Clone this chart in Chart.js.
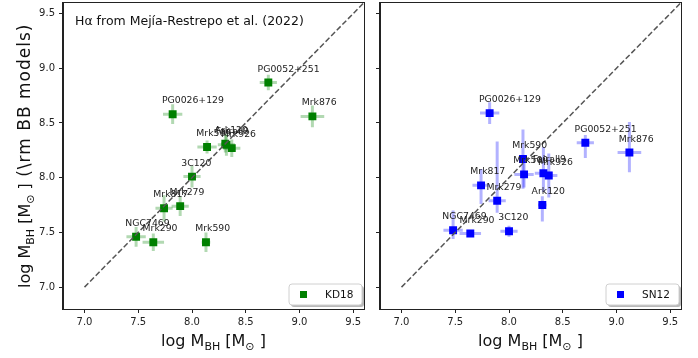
<!DOCTYPE html>
<html>
<head>
<meta charset="utf-8">
<script src="https://cdn.jsdelivr.net/npm/chart.js@4/dist/chart.umd.min.js"></script>
<style>
body { margin: 0; background: #fff; width: 698px; height: 358px; overflow: hidden; position: relative; }
#left { position: absolute; left: 0; top: -3px; }
#right { position: absolute; left: 370px; top: -3px; }
</style>
</head>
<body>
<canvas id="left" width="370" height="361"></canvas>
<canvas id="right" width="328" height="361"></canvas>
<script>
// objects, shared x values (log M_BH) and their errors
var names = ["NGC7469", "Mrk290", "Mrk817", "Mrk279", "3C120", "Mrk590", "Mrk509",
             "Ark120", "Fairall9", "Mrk926", "PG0026+129", "PG0052+251", "Mrk876"];
var xMass = [7.48, 7.64, 7.74, 7.89, 8.00, 8.13, 8.14, 8.31, 8.32, 8.37, 7.82, 8.71, 9.12];
var xErr  = [0.09, 0.10, 0.08, 0.08, 0.08, 0.04, 0.09, 0.04, 0.08, 0.08, 0.09, 0.08, 0.11];

// KD18 panel
var kd18    = [7.46, 7.41, 7.72, 7.74, 8.01, 7.41, 8.28, 8.31, 8.30, 8.27, 8.58, 8.87, 8.56];
var kd18Err = [0.09, 0.08, 0.12, 0.09, 0.10, 0.09, 0.06, 0.08, 0.10, 0.08, 0.09, 0.07, 0.10];

// SN12 panel (asymmetric y errors)
var sn12      = [7.52, 7.49, 7.93, 7.79, 7.51, 8.17, 8.03, 7.75, 8.04, 8.02, 8.59, 8.32, 8.23];
var sn12ErrLo = [0.08, 0.03, 0.17, 0.11, 0.05, 0.27, 0.12, 0.15, 0.17, 0.20, 0.10, 0.14, 0.18];
var sn12ErrHi = [0.18, 0.03, 0.15, 0.54, 0.05, 0.27, 0.12, 0.08, 0.24, 0.20, 0.10, 0.07, 0.28];

var oneToOne = [7.0, 9.6];
var tickVals = [7.0, 7.5, 8.0, 8.5, 9.0, 9.5];
var axisMin = 6.8, axisMax = 9.6;

var FONT = '"DejaVu Sans", sans-serif';

function drawParts(ctx, parts, x0, y0, angle) {
  ctx.save();
  ctx.translate(x0, y0);
  ctx.rotate(angle);
  var w = 0;
  parts.forEach(function (p) {
    ctx.font = p.size + 'px ' + FONT;
    ctx.letterSpacing = (p.ls || 0) + 'px';
    w += ctx.measureText(p.text).width;
  });
  var x = -w / 2;
  ctx.fillStyle = '#111';
  ctx.textAlign = 'left';
  ctx.textBaseline = 'alphabetic';
  parts.forEach(function (p) {
    ctx.font = p.size + 'px ' + FONT;
    ctx.letterSpacing = (p.ls || 0) + 'px';
    ctx.fillText(p.text, x, p.dy || 0);
    x += ctx.measureText(p.text).width;
  });
  ctx.restore();
}

var massLabel = [
  { text: 'log M', size: 16 },
  { text: 'BH', size: 11, dy: 4 },
  { text: ' [M', size: 16 },
  { text: '\u2299', size: 11, dy: 4 },
  { text: ' ]', size: 16 }
];

function roundRect(ctx, x, y, w, h, r) {
  ctx.beginPath();
  ctx.moveTo(x + r, y);
  ctx.lineTo(x + w - r, y);
  ctx.quadraticCurveTo(x + w, y, x + w, y + r);
  ctx.lineTo(x + w, y + h - r);
  ctx.quadraticCurveTo(x + w, y + h, x + w - r, y + h);
  ctx.lineTo(x + r, y + h);
  ctx.quadraticCurveTo(x, y + h, x, y + h - r);
  ctx.lineTo(x, y + r);
  ctx.quadraticCurveTo(x, y, x + r, y);
  ctx.closePath();
}

function makePanel(id, yVals, errLo, errHi, color, errColor, legendText, isLeft) {
  var extras = {
    id: 'extras',
    beforeDatasetsDraw: function (chart) {
      var ctx = chart.ctx, xs = chart.scales.x, ys = chart.scales.y, a = chart.chartArea;
      ctx.save();
      ctx.beginPath();
      ctx.rect(a.left, a.top, a.right - a.left, a.bottom - a.top);
      ctx.clip();
      ctx.strokeStyle = errColor;
      ctx.lineWidth = 3;
      for (var i = 0; i < xMass.length; i++) {
        var px = xs.getPixelForValue(xMass[i]), py = ys.getPixelForValue(yVals[i]);
        ctx.beginPath();
        ctx.moveTo(xs.getPixelForValue(xMass[i] - xErr[i]), py);
        ctx.lineTo(xs.getPixelForValue(xMass[i] + xErr[i]), py);
        ctx.moveTo(px, ys.getPixelForValue(yVals[i] - errLo[i]));
        ctx.lineTo(px, ys.getPixelForValue(yVals[i] + errHi[i]));
        ctx.stroke();
      }
      ctx.restore();
    },
    afterDatasetsDraw: function (chart) {
      var ctx = chart.ctx, xs = chart.scales.x, ys = chart.scales.y;
      ctx.save();
      ctx.font = '9.3px ' + FONT;
      ctx.fillStyle = '#222';
      ctx.textAlign = 'left';
      ctx.textBaseline = 'alphabetic';
      for (var i = 0; i < names.length; i++) {
        ctx.fillText(names[i], xs.getPixelForValue(xMass[i] - 0.1), ys.getPixelForValue(yVals[i] + 0.1));
      }
      ctx.restore();
    },
    afterDraw: function (chart) {
      var ctx = chart.ctx, a = chart.chartArea;
      ctx.save();
      // frame
      ctx.strokeStyle = '#222';
      ctx.lineWidth = 1;
      ctx.strokeRect(Math.round(a.left) - 0.5, Math.round(a.top) - 0.5,
                     Math.round(a.right - a.left) + 1, Math.round(a.bottom - a.top) + 1);
      // legend
      var bw = 73, bh = 21, bx = a.right - 75, by = a.bottom - 25;
      ctx.fillStyle = 'rgba(0,0,0,0.28)';
      roundRect(ctx, bx + 2, by + 2, bw, bh, 3);
      ctx.fill();
      ctx.fillStyle = '#fff';
      roundRect(ctx, bx, by, bw, bh, 3);
      ctx.fill();
      ctx.strokeStyle = '#d0d0d0';
      ctx.stroke();
      ctx.fillStyle = color;
      ctx.fillRect(bx + 11, by + bh / 2 - 3.5, 7, 7);
      ctx.fillStyle = '#111';
      ctx.font = '10.5px ' + FONT;
      ctx.textBaseline = 'middle';
      ctx.fillText(legendText, bx + 36, by + bh / 2 + 0.5);
      // x title
      drawParts(ctx, massLabel, (a.left + a.right) / 2, a.bottom + 37, 0);
      if (isLeft) {
        drawParts(ctx, massLabel.concat([{ text: ' (\\rm BB models)', size: 17, ls: 1 }]),
                  30, (a.top + a.bottom) / 2, -Math.PI / 2);
        ctx.fillStyle = '#111';
        ctx.font = '12.5px ' + FONT;
        ctx.textBaseline = 'alphabetic';
        ctx.textAlign = 'left';
        ctx.fillText('H\u03b1 from Mej\u00eda-Restrepo et al. (2022)', a.left + 12, a.top + 22);
      }
      ctx.restore();
    }
  };

  var tickFont = { size: 10, family: FONT };
  return new Chart(id, {
    type: 'scatter',
    data: {
      datasets: [{
        type: 'line',
        data: oneToOne.map(function (v) { return { x: v, y: v }; }),
        borderColor: '#555',
        borderWidth: 1.5,
        borderDash: [5.5, 2.5],
        pointRadius: 0,
        fill: false,
        order: 0
      }, {
        label: legendText,
        data: xMass.map(function (x, i) { return { x: x, y: yVals[i] }; }),
        pointStyle: 'rect',
        pointRadius: 5.6,
        backgroundColor: color,
        borderColor: color,
        borderWidth: 0,
        order: 1
      }]
    },
    options: {
      responsive: false,
      animation: false,
      devicePixelRatio: 1,
      layout: { padding: { top: 0, right: isLeft ? 6 : 17, left: 0, bottom: 0 } },
      plugins: { legend: { display: false }, tooltip: { enabled: false } },
      scales: {
        x: {
          type: 'linear', min: axisMin, max: axisMax,
          afterBuildTicks: function (s) { s.ticks = tickVals.map(function (v) { return { value: v }; }); },
          afterFit: function (s) { s.height = 49; s.paddingLeft = 0; s.paddingRight = 0; },
          ticks: { callback: function (v) { return v.toFixed(1); }, font: tickFont, color: '#222',
                   padding: 3, maxRotation: 0, autoSkip: false },
          grid: { drawOnChartArea: false, drawTicks: true, tickLength: 4, color: '#222' },
          border: { display: true, color: '#222' }
        },
        y: {
          type: 'linear', min: axisMin, max: axisMax,
          afterBuildTicks: function (s) { s.ticks = tickVals.map(function (v) { return { value: v }; }); },
          afterFit: function (s) { s.width = isLeft ? 63 : 10; s.paddingTop = 0; s.paddingBottom = 0; },
          ticks: { callback: function (v) { return isLeft ? v.toFixed(1) : ''; }, font: tickFont,
                   color: '#222', padding: 4, autoSkip: false },
          grid: { drawOnChartArea: false, drawTicks: true, tickLength: 4, color: '#222' },
          border: { display: true, color: '#222' }
        }
      }
    },
    plugins: [extras]
  });
}

makePanel('left', kd18, kd18Err, kd18Err, '#008000', 'rgba(0,128,0,0.3)', 'KD18', true);
makePanel('right', sn12, sn12ErrLo, sn12ErrHi, '#0000ff', 'rgba(0,0,255,0.3)', 'SN12', false);
</script>
</body>
</html>
